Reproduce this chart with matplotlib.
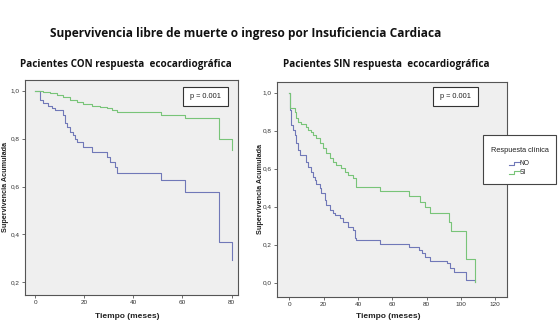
import matplotlib
matplotlib.use("Agg")
import matplotlib.pyplot as plt
from matplotlib.patches import Rectangle
from matplotlib.lines import Line2D

# ---- data ----
left_no_t = [0, 2.0, 3.4, 5.4, 6.8, 8.1, 11.5, 12.2, 12.9, 14.2, 15.6, 16.3, 17.0, 19.7, 23.1, 29.2, 30.5, 32.5, 33.2, 51.1, 61.0, 75.0, 80.0]
left_no_s = [1.0, 0.961, 0.951, 0.937, 0.926, 0.919, 0.899, 0.864, 0.85, 0.829, 0.815, 0.80, 0.787, 0.766, 0.745, 0.725, 0.704, 0.683, 0.655, 0.627, 0.578, 0.37, 0.293]
left_si_t = [0, 3.4, 6.1, 8.8, 11.5, 14.2, 16.9, 19.7, 23.0, 26.4, 29.2, 31.2, 33.2, 51.1, 61.0, 75.0, 80.0]
left_si_s = [1.0, 0.993, 0.989, 0.982, 0.975, 0.961, 0.954, 0.944, 0.937, 0.933, 0.926, 0.919, 0.91, 0.899, 0.885, 0.80, 0.752]

right_no_t = [0, 0.2, 1.2, 2.2, 3.1, 4.1, 5.1, 6.1, 9.9, 10.9, 12.8, 13.8, 14.8, 15.8, 17.7, 18.7, 20.6, 21.6, 23.5, 25.5, 26.5, 29.4, 31.3, 34.2, 37.2, 38.2, 39.1, 53.0, 69.5, 75.3, 77.2, 79.1, 82.1, 91.8, 93.8, 95.7, 103.1, 108.3]
right_no_s = [1.0, 0.909, 0.83, 0.804, 0.777, 0.734, 0.698, 0.672, 0.637, 0.61, 0.584, 0.558, 0.54, 0.52, 0.50, 0.47, 0.435, 0.409, 0.383, 0.365, 0.356, 0.339, 0.321, 0.295, 0.277, 0.234, 0.222, 0.205, 0.186, 0.172, 0.155, 0.137, 0.114, 0.102, 0.076, 0.058, 0.014, 0.005]
right_si_t = [0, 0.5, 3.1, 4.1, 5.1, 7.0, 9.9, 10.9, 12.8, 13.8, 15.8, 17.7, 19.7, 21.6, 23.5, 25.5, 27.4, 30.4, 32.3, 34.2, 37.2, 38.7, 52.7, 69.5, 76.3, 79.1, 82.1, 92.8, 94.1, 103.1, 108.3]
right_si_s = [1.0, 0.918, 0.9, 0.865, 0.847, 0.835, 0.821, 0.804, 0.795, 0.777, 0.76, 0.734, 0.707, 0.681, 0.655, 0.637, 0.619, 0.602, 0.584, 0.567, 0.549, 0.505, 0.483, 0.456, 0.426, 0.397, 0.365, 0.321, 0.272, 0.126, 0.005]

left_xticks = [0, 20, 40, 60, 80]
left_yticks = [0.2, 0.4, 0.6, 0.8, 1.0]
right_xticks = [0, 20, 40, 60, 80, 100, 120]
right_yticks = [0.0, 0.2, 0.4, 0.6, 0.8, 1.0]

main_title = "Supervivencia libre de muerte o ingreso por Insuficiencia Cardiaca"
left_title = "Pacientes CON respuesta  ecocardiográfica"
right_title = "Pacientes SIN respuesta  ecocardiográfica"
ylabel = "Supervivencia Acumulada"
xlabel = "Tiempo (meses)"
pval = "p = 0.001"
legend_title = "Respuesta clínica"
legend_labels = ["NO", "SI"]

BLUE = "#7078b8"
GREEN = "#78c478"
FACE = "#efefef"
TITLE_FONT = "Open Sans"
LAB_FONT = "Liberation Sans"

W, H = 560, 332
fig = plt.figure(figsize=(5.6, 3.32), dpi=100)
fig.patch.set_facecolor("white")

def fx(px): return px / W
def fy(py): return 1 - py / H

def fmt(v):
    return ("%.1f" % v).replace(".", ",")

def make_axes(l, t, r, b, xlim, ylim, xticks, yticks):
    ax = fig.add_axes([fx(l), fy(b), fx(r) - fx(l), fy(t) - fy(b)])
    ax.set_facecolor(FACE)
    ax.set_xlim(*xlim)
    ax.set_ylim(*ylim)
    ax.set_xticks(xticks)
    ax.set_xticklabels([str(v) for v in xticks])
    ax.set_yticks(yticks)
    ax.set_yticklabels([fmt(v) for v in yticks])
    for s in ax.spines.values():
        s.set_color("#555555")
        s.set_linewidth(0.8)
    ax.tick_params(direction="out", length=2.5, width=0.6, color="#555555",
                   labelsize=4.6, pad=1.2, labelcolor="#333333")
    for lab in ax.get_xticklabels() + ax.get_yticklabels():
        lab.set_family(LAB_FONT)
    return ax

axL = make_axes(25, 80, 238, 295, (-4.1, 82.6), (0.147, 1.045), left_xticks, left_yticks)
axL.step(left_no_t, left_no_s, where="post", color=BLUE, lw=0.8)
axL.step(left_si_t, left_si_s, where="post", color=GREEN, lw=0.8)

axR = make_axes(276.7, 81.7, 506.7, 296.7, (-7.35, 126.7), (-0.074, 1.058), right_xticks, right_yticks)
axR.step(right_no_t, right_no_s, where="post", color=BLUE, lw=0.8)
axR.step(right_si_t, right_si_s, where="post", color=GREEN, lw=0.8)

# p-value boxes
for (l, t, r, b) in [(183.3, 86.7, 228.3, 106), (433.3, 86.7, 478.3, 106)]:
    fig.patches.append(Rectangle((fx(l), fy(b)), fx(r) - fx(l), fy(t) - fy(b),
                                 transform=fig.transFigure, facecolor="white",
                                 edgecolor="#333333", lw=0.8, zorder=5))
    fig.text(fx((l + r) / 2), fy((t + b) / 2), pval, ha="center", va="center",
             fontsize=5.3, family=LAB_FONT, color="#222222", zorder=6)

# titles
fig.text(fx(246), fy(33), main_title, ha="center", va="center",
         fontsize=8.6, fontweight="bold", family=TITLE_FONT, color="#111111")
fig.text(fx(126), fy(65), left_title, ha="center", va="center",
         fontsize=7.1, fontweight="bold", family=TITLE_FONT, color="#111111")
fig.text(fx(386), fy(65), right_title, ha="center", va="center",
         fontsize=7.1, fontweight="bold", family=TITLE_FONT, color="#111111")

# axis labels
for x, y in [(6, 187), (260, 189)]:
    fig.text(fx(x), fy(y), ylabel, rotation=90, ha="center", va="center",
             fontsize=5.2, fontweight="bold", family=LAB_FONT, color="#222222")
for x in [127, 388]:
    fig.text(fx(x), fy(316.5), xlabel, ha="center", va="center",
             fontsize=6, fontweight="bold", family=LAB_FONT, color="#222222")

# legend
fig.patches.append(Rectangle((fx(483.3), fy(183.5)), fx(556) - fx(483.3), fy(135) - fy(183.5),
                             transform=fig.transFigure, facecolor="white",
                             edgecolor="#444444", lw=0.8, zorder=5))
fig.text(fx(520), fy(150.7), legend_title, ha="center", va="center",
         fontsize=5.3, family=LAB_FONT, color="#222222", zorder=6)
for py, lab, col in [(163.3, legend_labels[0], BLUE), (172.3, legend_labels[1], GREEN)]:
    xs = [fx(509), fx(514), fx(514), fx(519.5)]
    ys = [fy(py + 1.5), fy(py + 1.5), fy(py - 1.5), fy(py - 1.5)]
    fig.lines.append(Line2D(xs, ys, transform=fig.transFigure, color=col, lw=0.8, zorder=6))
    fig.text(fx(520), fy(py), lab, ha="left", va="center",
             fontsize=4.8, family=LAB_FONT, color="#222222", zorder=6)

fig.savefig("out.png", dpi=100, facecolor="white")
